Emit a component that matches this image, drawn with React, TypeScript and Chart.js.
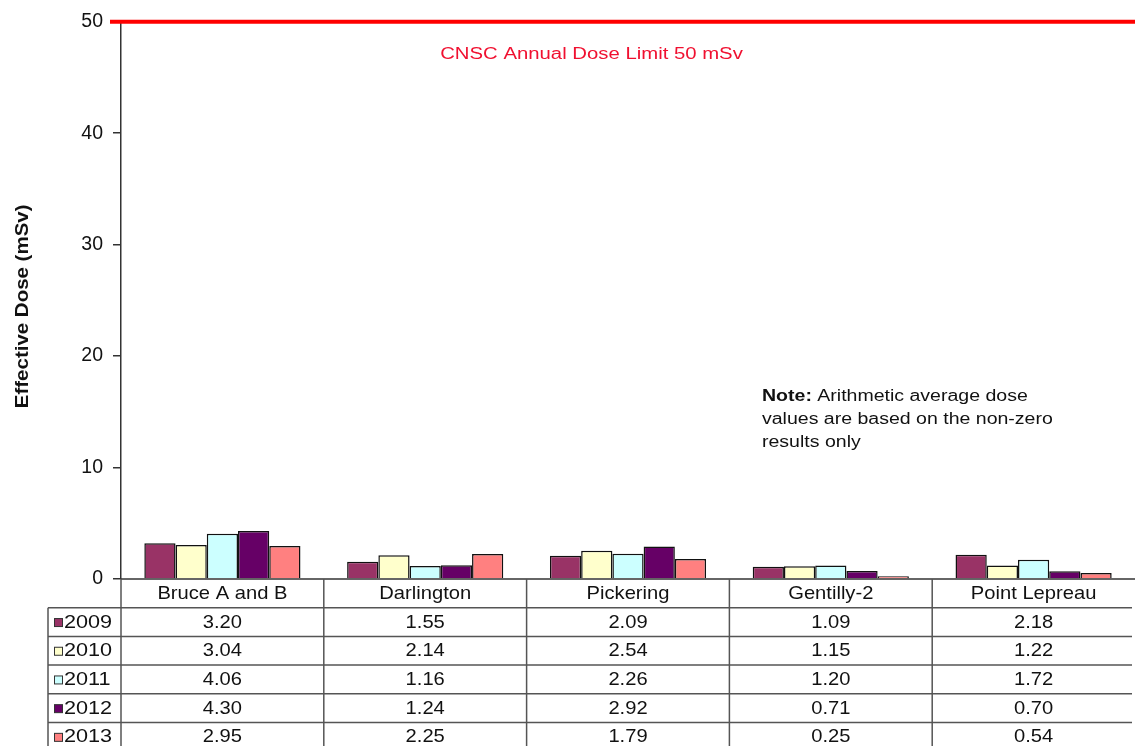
import React, { useEffect, useRef } from "react";
import { Chart, registerables } from "chart.js";

Chart.register(...registerables);

const categories = ["Bruce A and B", "Darlington", "Pickering", "Gentilly-2", "Point Lepreau"];
const years = ["2009", "2010", "2011", "2012", "2013"];
const dose2009 = [3.2, 1.55, 2.09, 1.09, 2.18];
const dose2010 = [3.04, 2.14, 2.54, 1.15, 1.22];
const dose2011 = [4.06, 1.16, 2.26, 1.2, 1.72];
const dose2012 = [4.3, 1.24, 2.92, 0.71, 0.7];
const dose2013 = [2.95, 2.25, 1.79, 0.25, 0.54];
const yearColors = ["#993366", "#FFFFCC", "#CCFFFF", "#660066", "#FF8080"];
const doseLimit = 50;
const limitLabel = "CNSC Annual Dose Limit 50 mSv";
const yTitle = "Effective Dose (mSv)";
const noteLines = [
  ["Note:", " Arithmetic average dose"],
  ["", "values are based on the non-zero"],
  ["", "results only"],
];

const FONT = '"Liberation Sans", Arial, Helvetica, sans-serif';

function drawText(
  ctx: CanvasRenderingContext2D,
  s: string,
  x: number,
  y: number,
  size: number,
  sx: number,
  align: CanvasTextAlign,
  bold: boolean,
  color: string,
  rotate = 0
) {
  ctx.save();
  ctx.translate(x, y);
  if (rotate) ctx.rotate(rotate);
  ctx.scale(sx, 1);
  ctx.font = `${bold ? "bold " : ""}${size}px ${FONT}`;
  ctx.textAlign = align;
  ctx.textBaseline = "middle";
  ctx.fillStyle = color;
  ctx.fillText(s, 0, 0);
  ctx.restore();
}

const tablePlugin = {
  id: "tablePlugin",
  afterDraw(chart: any) {
    const ctx: CanvasRenderingContext2D = chart.ctx;
    const area = chart.chartArea;
    const xs = chart.scales.x;
    const ys = chart.scales.y;
    const W = chart.width;
    const colW = (area.right - area.left) / categories.length;

    // dose limit line
    const yL = ys.getPixelForValue(doseLimit);
    ctx.save();
    ctx.strokeStyle = "#ff0000";
    ctx.lineWidth = 4;
    ctx.beginPath();
    ctx.moveTo(area.left - 11, yL);
    ctx.lineTo(W, yL);
    ctx.stroke();
    ctx.restore();
    drawText(ctx, limitLabel, area.left + (area.right - area.left) * 0.464, yL + 33, 16, 1.27, "center", false, "#f01030");

    // y title
    drawText(ctx, yTitle, 23, (area.top + area.bottom) / 2 + 6, 17.5, 1.17, "center", true, "#111", -Math.PI / 2);

    // note
    const nx = 762;
    const ny0 = ys.getPixelForValue(16.4);
    noteLines.forEach((pair, i) => {
      const yy = ny0 + i * 23;
      let cx = nx;
      if (pair[0]) {
        ctx.save();
        ctx.font = `bold 16px ${FONT}`;
        const w = ctx.measureText(pair[0]).width * 1.22;
        ctx.restore();
        drawText(ctx, pair[0], cx, yy, 16, 1.22, "left", true, "#111");
        cx += w;
      }
      drawText(ctx, pair[1], cx, yy, 16, 1.22, "left", false, "#111");
    });

    // baseline
    ctx.save();
    ctx.strokeStyle = "#333";
    ctx.lineWidth = 1.5;
    ctx.beginPath();
    ctx.moveTo(area.left, area.bottom);
    ctx.lineTo(W, area.bottom);
    ctx.stroke();
    ctx.restore();

    // table
    const top = area.bottom;
    const headerH = 28.7;
    const rowH = 28.7;
    const legendLeft = 48;
    ctx.save();
    ctx.strokeStyle = "#555";
    ctx.lineWidth = 1.5;
    for (let r = 0; r < years.length; r++) {
      const yy = top + headerH + r * rowH;
      ctx.beginPath();
      ctx.moveTo(legendLeft, yy);
      ctx.lineTo(W - 3, yy);
      ctx.stroke();
    }
    for (let c = 0; c < categories.length; c++) {
      const xx = xs.getPixelForValue(c) - colW / 2;
      ctx.beginPath();
      ctx.moveTo(xx, top);
      ctx.lineTo(xx, chart.height);
      ctx.stroke();
    }
    ctx.beginPath();
    ctx.moveTo(legendLeft, top + headerH);
    ctx.lineTo(legendLeft, chart.height);
    ctx.stroke();
    ctx.restore();

    categories.forEach((cat, c) => {
      drawText(ctx, cat, xs.getPixelForValue(c), top + headerH / 2 + 0.5, 18.5, 1.09, "center", false, "#111");
    });
    chart.data.datasets.forEach((ds: any, r: number) => {
      const cy = top + headerH + r * rowH + rowH / 2 + 0.5;
      ctx.save();
      ctx.fillStyle = ds.backgroundColor;
      ctx.strokeStyle = "#333";
      ctx.lineWidth = 1;
      ctx.fillRect(54.5, cy - 4, 8, 8);
      ctx.strokeRect(54.5, cy - 4, 8, 8);
      ctx.restore();
      drawText(ctx, ds.label, 64, cy, 18.5, 1.17, "left", false, "#111");
      ds.data.forEach((v: number, c: number) => {
        drawText(ctx, v.toFixed(2), xs.getPixelForValue(c), cy, 18.5, 1.09, "center", false, "#111");
      });
    });
  },
};

export default function App() {
  const ref = useRef<HTMLCanvasElement>(null);
  useEffect(() => {
    if (!ref.current) return;
    const series = [dose2009, dose2010, dose2011, dose2012, dose2013];
    const chart = new Chart(ref.current, {
      type: "bar",
      data: {
        labels: categories,
        datasets: years.map((yr, i) => ({
          label: yr,
          data: series[i],
          backgroundColor: yearColors[i],
          borderColor: "#111",
          borderWidth: 1.5,
          categoryPercentage: 0.77,
          barPercentage: 1.0,
        })),
      },
      options: {
        responsive: false,
        animation: false,
        devicePixelRatio: 1,
        layout: { padding: { left: 0, top: 21, right: 0, bottom: 167 } },
        plugins: { legend: { display: false }, tooltip: { enabled: false }, title: { display: false } },
        scales: {
          x: { display: false },
          y: {
            min: 0,
            max: 50,
            ticks: { stepSize: 10, color: "#111", font: { size: 19.5, family: FONT }, padding: 10 },
            grid: { display: true, drawOnChartArea: false, drawTicks: true, tickLength: 8, color: "#333", lineWidth: 1.5 },
            border: { display: true, color: "#333", width: 1.5 },
            afterFit: (scale: any) => {
              scale.width = 121;
            },
          },
        },
      },
      plugins: [tablePlugin],
    });
    return () => chart.destroy();
  }, []);
  return (
    <div style={{ position: "fixed", left: 0, top: 0, width: 1135, height: 746, background: "#fff" }}>
      <canvas ref={ref} width={1135} height={746} style={{ display: "block" }} />
    </div>
  );
}
